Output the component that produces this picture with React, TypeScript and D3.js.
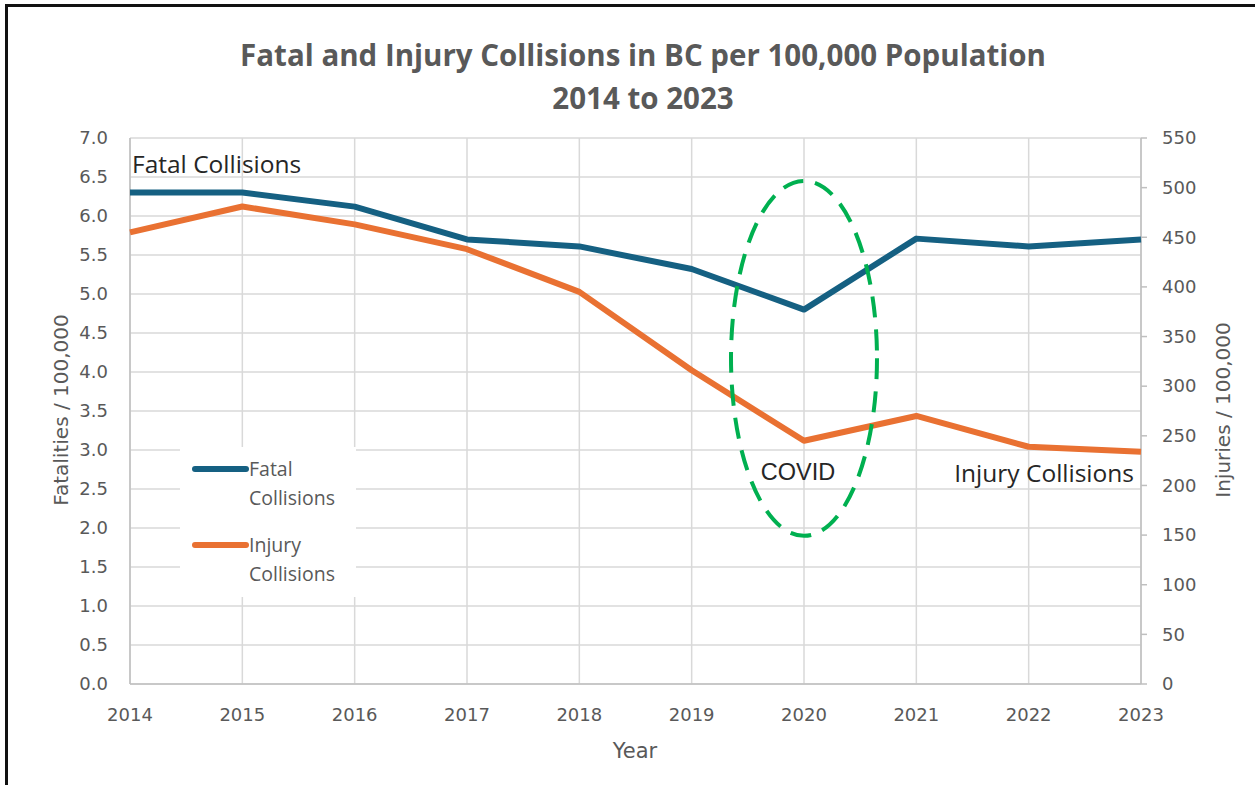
import { useEffect, useRef } from 'react';
import * as d3 from 'd3';

const years = [2014, 2015, 2016, 2017, 2018, 2019, 2020, 2021, 2022, 2023];
const fatalRates = [6.3, 6.3, 6.12, 5.7, 5.61, 5.32, 4.8, 5.71, 5.61, 5.7];
const injuryRates = [455, 481, 463, 438, 395, 316, 245, 270, 239, 234];
const leftTicks = [0, 0.5, 1, 1.5, 2, 2.5, 3, 3.5, 4, 4.5, 5, 5.5, 6, 6.5, 7];
const rightTicks = [0, 50, 100, 150, 200, 250, 300, 350, 400, 450, 500, 550];
const covidSpan = { year: 2020, from: 1.9, to: 6.45 };

export default function App() {
  const svgRef = useRef<SVGSVGElement>(null);

  useEffect(() => {
    if (!svgRef.current) return;
    const svg = d3.select(svgRef.current);
    svg.selectAll('*').remove();

    const W = 1255, H = 785;
    const m = { t: 138, r: 114, b: 101, l: 130 };
    const iw = W - m.l - m.r, ih = H - m.t - m.b;
    const grey = '#595959';
    const tickFont = '"DejaVu Sans", sans-serif';
    const textFont = '"Open Sans", "Noto Sans", sans-serif';

    // frame
    svg.append('path').attr('d', `M6.5,${H} L6.5,5.5 L${W},5.5`)
      .attr('fill', 'none').attr('stroke', '#111').attr('stroke-width', 3);

    // title
    const title = svg.append('text').attr('text-anchor', 'middle')
      .attr('fill', grey).attr('font-family', textFont).attr('font-weight', 700).attr('font-size', 29.5);
    title.append('tspan').attr('x', 643).attr('y', 66).text('Fatal and Injury Collisions in BC per 100,000 Population');
    title.append('tspan').attr('x', 643).attr('y', 109).text('2014 to 2023');

    const g = svg.append('g').attr('transform', `translate(${m.l},${m.t})`);
    const x = d3.scaleLinear().domain([2014, 2023]).range([0, iw]);
    const yL = d3.scaleLinear().domain([0, 7]).range([ih, 0]);
    const yR = d3.scaleLinear().domain([0, 550]).range([ih, 0]);

    // grid
    g.selectAll('.hg').data(leftTicks).enter().append('line')
      .attr('x1', 0).attr('x2', iw).attr('y1', d => yL(d)).attr('y2', d => yL(d))
      .attr('stroke', '#d9d9d9').attr('stroke-width', 1.5);
    g.selectAll('.vg').data(years).enter().append('line')
      .attr('x1', d => x(d)).attr('x2', d => x(d)).attr('y1', 0).attr('y2', ih)
      .attr('stroke', '#d9d9d9').attr('stroke-width', 1.5);

    // axis lines
    g.append('line').attr('x1', 0).attr('x2', 0).attr('y1', 0).attr('y2', ih).attr('stroke', '#bfbfbf').attr('stroke-width', 1.5);
    g.append('line').attr('x1', 0).attr('x2', iw).attr('y1', ih).attr('y2', ih).attr('stroke', '#bfbfbf').attr('stroke-width', 1.5);
    g.append('line').attr('x1', iw).attr('x2', iw).attr('y1', 0).attr('y2', ih).attr('stroke', '#bfbfbf').attr('stroke-width', 1.5);
    g.selectAll('.rt').data(rightTicks).enter().append('line')
      .attr('x1', iw).attr('x2', iw + 6).attr('y1', d => yR(d)).attr('y2', d => yR(d))
      .attr('stroke', '#bfbfbf').attr('stroke-width', 1.5);

    // tick labels
    g.selectAll('.lt').data(leftTicks).enter().append('text')
      .attr('x', -22).attr('y', d => yL(d)).attr('dy', '0.35em').attr('text-anchor', 'end')
      .attr('fill', grey).attr('font-family', tickFont).attr('font-size', 18).text(d => d.toFixed(1));
    g.selectAll('.rl').data(rightTicks).enter().append('text')
      .attr('x', iw + 21).attr('y', d => yR(d)).attr('dy', '0.35em').attr('text-anchor', 'start')
      .attr('fill', grey).attr('font-family', tickFont).attr('font-size', 18).text(d => String(d));
    g.selectAll('.xl').data(years).enter().append('text')
      .attr('x', d => x(d)).attr('y', ih + 37).attr('text-anchor', 'middle')
      .attr('fill', grey).attr('font-family', tickFont).attr('font-size', 18).text(d => String(d));

    // axis titles
    svg.append('text').attr('transform', 'translate(68,410) rotate(-90)').attr('text-anchor', 'middle')
      .attr('fill', grey).attr('font-family', tickFont).attr('font-size', 20).text('Fatalities / 100,000');
    svg.append('text').attr('transform', 'translate(1230,410) rotate(-90)').attr('text-anchor', 'middle')
      .attr('fill', grey).attr('font-family', tickFont).attr('font-size', 20).text('Injuries / 100,000');
    svg.append('text').attr('x', 635).attr('y', 758).attr('text-anchor', 'middle')
      .attr('fill', grey).attr('font-family', tickFont).attr('font-size', 21).text('Year');

    // series
    const fatalLine = d3.line<number>().x((_, i) => x(years[i])).y(d => yL(d));
    const injuryLine = d3.line<number>().x((_, i) => x(years[i])).y(d => yR(d));
    g.append('path').datum(fatalRates).attr('d', fatalLine)
      .attr('fill', 'none').attr('stroke', '#156082').attr('stroke-width', 6).attr('stroke-linejoin', 'round');
    g.append('path').datum(injuryRates).attr('d', injuryLine)
      .attr('fill', 'none').attr('stroke', '#E97132').attr('stroke-width', 6).attr('stroke-linejoin', 'round');

    // COVID ellipse
    const cy = (yL(covidSpan.from) + yL(covidSpan.to)) / 2;
    g.append('ellipse').attr('cx', x(covidSpan.year)).attr('cy', cy)
      .attr('rx', 73).attr('ry', (yL(covidSpan.from) - yL(covidSpan.to)) / 2)
      .attr('fill', 'none').attr('stroke', '#00B050').attr('stroke-width', 4).attr('stroke-dasharray', '21,12');

    // annotations
    g.append('text').attr('x', 2).attr('y', 35).attr('fill', '#262626')
      .attr('font-family', textFont).attr('font-size', 24.5).text('Fatal Collisions');
    g.append('text').attr('x', x(covidSpan.year) - 6).attr('y', 342).attr('text-anchor', 'middle').attr('fill', '#262626')
      .attr('font-family', '"Liberation Sans", Arial, sans-serif').attr('font-size', 23.5).text('COVID');
    g.append('text').attr('x', iw - 7).attr('y', 344).attr('text-anchor', 'end').attr('fill', '#262626')
      .attr('font-family', textFont).attr('font-size', 24.5).text('Injury Collisions');

    // legend
    const lg = svg.append('g');
    lg.append('rect').attr('x', 180).attr('y', 447).attr('width', 176).attr('height', 150).attr('fill', '#fff');
    const legendItems = [
      { lines: ['Fatal', 'Collisions'], color: '#156082', y: 469 },
      { lines: ['Injury', 'Collisions'], color: '#E97132', y: 545 },
    ];
    legendItems.forEach(it => {
      lg.append('line').attr('x1', 195).attr('x2', 246).attr('y1', it.y).attr('y2', it.y)
        .attr('stroke', it.color).attr('stroke-width', 6).attr('stroke-linecap', 'round');
      const t = lg.append('text').attr('fill', grey).attr('font-family', textFont).attr('font-size', 19.5);
      t.append('tspan').attr('x', 249).attr('y', it.y + 7).text(it.lines[0]);
      t.append('tspan').attr('x', 249).attr('y', it.y + 36).text(it.lines[1]);
    });
  }, []);

  return (
    <svg ref={svgRef} width={1255} height={785} viewBox="0 0 1255 785"
      style={{ position: 'absolute', left: 0, top: 0, background: '#fff' }} />
  );
}
